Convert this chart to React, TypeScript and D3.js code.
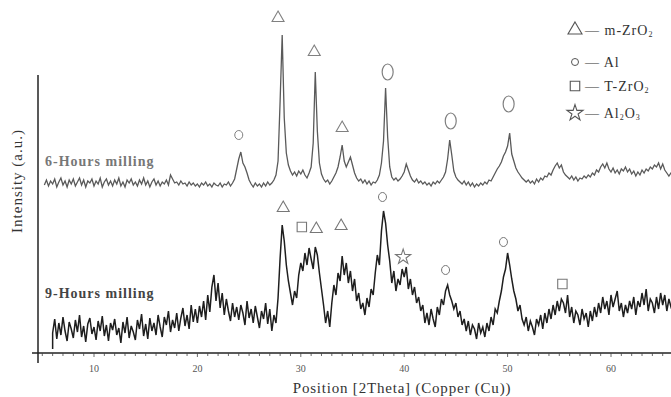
import { useRef, useEffect } from 'react';
import * as d3 from 'd3';

const W = 671;
const H = 397;

// 2θ step of the digitised scans (every 0.2°)
const STEP = 0.2;
const TOP_START = 5.2;
const BOTTOM_START = 6.0;

// 6-hours milling, intensity (a.u.), from 5.2° to 66°
const top6h = [
  168, 173, 167, 172,
  169, 174, 166, 171, 175, 168, 172, 166, 173, 169,
  174, 167, 171, 175, 168, 173, 166, 172, 170, 174,
  167, 172, 169, 175, 166, 171, 174, 168, 172, 167,
  173, 169, 175, 167, 171, 166, 173, 170, 174, 168,
  171, 167, 173, 169, 175, 168, 172, 166, 171, 174,
  168, 172, 167, 171, 169, 173, 168, 178, 174, 170,
  171, 168, 172, 169, 170, 167, 171, 168, 170, 167,
  169, 166, 170, 168, 171, 167, 169, 166, 170, 168,
  167, 170, 166, 169, 168, 171, 167, 170, 174, 184,
  194, 201, 190, 186, 180, 173, 169, 166, 170, 167,
  169, 166, 170, 167, 171, 168, 170, 173, 178, 192,
  252, 318, 235, 200, 188, 182, 178, 181, 177, 182,
  179, 183, 178, 175, 180, 186, 210, 281, 222, 190,
  179, 174, 171, 173, 169, 172, 176, 180, 186, 196,
  208, 192, 186, 191, 196, 188, 180, 175, 172, 174,
  170, 173, 169, 172, 168, 171, 170, 173, 178, 190,
  212, 265, 216, 186, 176, 173, 175, 172, 174, 177,
  181, 189, 183, 177, 173, 171, 174, 170, 172, 169,
  171, 168, 170, 167, 171, 169, 172, 170, 173, 176,
  181, 194, 213, 198, 182, 176, 173, 171, 169, 172,
  168, 171, 167, 170, 166, 169, 167, 170, 168, 171,
  169, 173, 172, 176, 180, 184, 187, 191, 197, 201,
  207, 220, 199, 192, 185, 181, 178, 175, 173, 171,
  173, 170, 172, 169, 174, 171, 175, 173, 177, 176,
  180, 178, 183, 187, 190, 185, 188, 181, 178, 176,
  174, 177, 173, 176, 172, 175, 174, 177, 175, 178,
  176, 180, 178, 183, 181, 186, 189, 185, 190, 184,
  181, 185, 180, 183, 179, 184, 182, 186, 181, 184,
  179, 182, 177, 181, 178, 183, 180, 184, 182, 186,
  184, 188, 186, 190, 184, 189, 183, 180, 177, 180,
  178,
];

// 9-hours milling, intensity (a.u.), from 6° to 66°
const bottom9h = [
  20, 34, 14, 30, 18, 36, 22, 12, 31, 24,
  15, 33, 21, 38, 16, 27, 11, 29, 35, 19,
  26, 13, 32, 22, 37, 17, 28, 12, 30, 23,
  34, 18, 25, 10, 31, 20, 36, 15, 27, 21,
  13, 33, 24, 39, 17, 29, 14, 35, 22, 30,
  18, 38, 26, 16, 36, 28, 42, 21, 33, 25,
  40, 22, 35, 45, 27, 38, 24, 48, 31, 44,
  30, 47, 36, 52, 33, 58, 41, 66, 78, 52,
  70, 45, 60, 38, 54, 42, 32, 50, 36, 46,
  33, 48, 40, 28, 52, 35, 44, 30, 47, 36,
  25, 42, 34, 50, 29, 44, 22, 38, 30, 55,
  95, 128, 112, 88, 72, 60, 48, 62, 55, 78,
  90, 82, 100, 88, 105, 94, 84, 106, 98, 80,
  64, 48, 30, 42, 26, 50, 68, 58, 80, 72,
  97, 78, 90, 70, 82, 62, 74, 52, 60, 44,
  50, 38, 55, 46, 64, 58, 80, 98, 88, 122,
  142, 130, 108, 92, 70, 82, 62, 74, 68, 84,
  76, 86, 64, 74, 58, 66, 50, 56, 42, 48,
  30, 40, 28, 44, 34, 26, 46, 38, 54, 48,
  62, 68, 58, 52, 44, 50, 36, 42, 28, 34,
  22, 32, 18, 28, 24, 14, 30, 20, 26, 16,
  30, 22, 36, 28, 44, 40, 52, 62, 76, 84,
  100, 88, 74, 62, 54, 42, 48, 34, 28, 36,
  22, 32, 26, 18, 34, 28, 38, 24, 40, 30,
  44, 34, 48, 38, 52, 42, 54, 50, 40, 58,
  36, 46, 30, 42, 38, 28, 44, 34, 40, 26,
  42, 32, 46, 36, 50, 40, 56, 44, 52, 38,
  58, 46, 54, 62, 42, 50, 36, 48, 40, 52,
  44, 56, 38, 52, 46, 60, 48, 64, 42, 54,
  50, 40, 56, 44, 60, 48, 58, 42, 54, 46,
  50,
];

// phase markers: [2θ, label height (a.u.), phase]
const topMarkers: [number, number, string][] = [
  [24.0, 218, 'Al-s'],
  [27.8, 335, 'm'],
  [31.3, 301, 'm'],
  [34.0, 225, 'm'],
  [38.4, 281, 'Al-l'],
  [44.5, 232, 'Al-l'],
  [50.1, 249, 'Al-l'],
];
const bottomMarkers: [number, number, string][] = [
  [28.3, 145, 'm'],
  [30.1, 126, 't'],
  [31.5, 124, 'm'],
  [33.9, 127, 'm'],
  [37.9, 156, 'Al'],
  [39.9, 96, 'a'],
  [44.0, 83, 'Al'],
  [49.6, 111, 'Al'],
  [55.3, 69, 't'],
];

const xTicks = [10, 20, 30, 40, 50, 60];
const legendItems = [
  { phase: 'm', name: 'm-ZrO', sub: '2' },
  { phase: 'Al', name: 'Al', sub: '' },
  { phase: 't', name: 'T-ZrO', sub: '2' },
  { phase: 'a', name: 'Al', sub: '2', tail: 'O', sub2: '3' },
];

const FONT = '"Liberation Serif", "Times New Roman", serif';

function markerPath(phase: string, big = false): string {
  if (phase === 'm') return d3.symbol(d3.symbolTriangle, big ? 85 : 62)()!;
  if (phase === 't') return d3.symbol(d3.symbolSquare, big ? 90 : 88)()!;
  if (phase === 'a') return d3.symbol(d3.symbolStar, big ? 80 : 70)()!;
  return '';
}

export default function App() {
  const ref = useRef<SVGSVGElement>(null);

  useEffect(() => {
    const svg = d3.select(ref.current);
    svg.selectAll('*').remove();

    const x = d3.scaleLinear().domain([10, 60]).range([94, 611]);
    const y = d3.scaleLinear().domain([0, 320]).range([353, 33]);

    const line = d3
      .line<[number, number]>()
      .x((d) => x(d[0]))
      .y((d) => y(d[1]));

    const topPts: [number, number][] = top6h.map((v, i) => [TOP_START + i * STEP, v]);
    const botPts: [number, number][] = [[BOTTOM_START, 4]].concat(
      bottom9h.map((v, i) => [BOTTOM_START + i * STEP, v])
    ) as [number, number][];

    // axes
    svg.append('line')
      .attr('x1', 32).attr('x2', W).attr('y1', y(0)).attr('y2', y(0))
      .attr('stroke', '#222').attr('stroke-width', 1.5);
    svg.append('line')
      .attr('x1', 38).attr('x2', 38).attr('y1', 75).attr('y2', 363)
      .attr('stroke', '#222').attr('stroke-width', 1.5);

    const minor = d3.range(5, 67, 1);
    svg.selectAll('.tick')
      .data(minor)
      .join('line')
      .attr('x1', (d) => x(d)).attr('x2', (d) => x(d))
      .attr('y1', y(0)).attr('y2', (d) => y(0) + (d % 10 === 0 ? 4 : 3))
      .attr('stroke', '#444').attr('stroke-width', 0.8);

    svg.selectAll('.tl')
      .data(xTicks)
      .join('text')
      .attr('x', (d) => x(d)).attr('y', 372)
      .attr('text-anchor', 'middle')
      .attr('font-family', FONT).attr('font-size', 10)
      .attr('fill', '#555')
      .text((d) => d);

    svg.append('text')
      .attr('x', 402).attr('y', 393)
      .attr('text-anchor', 'middle')
      .attr('font-family', FONT).attr('font-size', 15)
      .attr('letter-spacing', 0.8)
      .attr('fill', '#333')
      .text('Position [2Theta] (Copper (Cu))');

    svg.append('text')
      .attr('transform', 'translate(22,181) rotate(-90)')
      .attr('text-anchor', 'middle')
      .attr('font-family', FONT).attr('font-size', 15)
      .attr('letter-spacing', 1)
      .attr('fill', '#333')
      .text('Intensity (a.u.)');

    // traces
    svg.append('path')
      .attr('d', line(topPts))
      .attr('fill', 'none').attr('stroke', '#5a5a5a').attr('stroke-width', 1.3);
    svg.append('path')
      .attr('d', line(botPts))
      .attr('fill', 'none').attr('stroke', '#1e1e1e').attr('stroke-width', 1.5);

    // series labels
    svg.append('text')
      .attr('x', 45).attr('y', 166)
      .attr('font-family', FONT).attr('font-size', 14).attr('font-weight', 'bold')
      .attr('letter-spacing', 1)
      .attr('fill', '#777')
      .text('6-Hours milling');
    svg.append('text')
      .attr('x', 45).attr('y', 298)
      .attr('font-family', FONT).attr('font-size', 14).attr('font-weight', 'bold')
      .attr('letter-spacing', 1)
      .attr('fill', '#444')
      .text('9-Hours milling');

    // phase markers
    const drawMarker = (
      g: d3.Selection<SVGGElement, unknown, null, undefined>,
      phase: string,
      cx: number,
      cy: number,
      color: string,
      big = false
    ) => {
      if (phase === 'Al' || phase === 'Al-s') {
        g.append('ellipse')
          .attr('cx', cx).attr('cy', cy)
          .attr('rx', big ? 3.5 : 4).attr('ry', big ? 3.5 : 4.5)
          .attr('fill', 'none').attr('stroke', color).attr('stroke-width', 1);
      } else if (phase === 'Al-l') {
        g.append('ellipse')
          .attr('cx', cx).attr('cy', cy).attr('rx', 5.5).attr('ry', 8)
          .attr('fill', 'none').attr('stroke', color).attr('stroke-width', 1.2);
      } else {
        g.append('path')
          .attr('d', markerPath(phase, big))
          .attr('transform', `translate(${cx},${cy})`)
          .attr('fill', 'none').attr('stroke', color).attr('stroke-width', 1.1);
      }
    };

    const mg = svg.append('g');
    topMarkers.forEach(([p, lv, ph]) => drawMarker(mg, ph, x(p), y(lv), '#808080'));
    bottomMarkers.forEach(([p, lv, ph]) => drawMarker(mg, ph, x(p), y(lv), '#777'));

    // legend
    const legendRows = [30, 62, 86, 113];
    legendItems.forEach((it, i) => {
      const cy = legendRows[i];
      drawMarker(mg, it.phase, 575, cy, '#555', true);
      const t = svg.append('text')
        .attr('x', 585).attr('y', cy + 4.5)
        .attr('font-family', FONT).attr('font-size', 14)
        .attr('letter-spacing', 1)
        .attr('fill', '#333');
      t.append('tspan').text('— ' + it.name);
      if (it.sub) t.append('tspan').attr('font-size', 8).attr('dy', 2).text(it.sub);
      if (it.tail) t.append('tspan').attr('dy', -2).text(it.tail);
      if (it.sub2) t.append('tspan').attr('font-size', 8).attr('dy', 2).text(it.sub2);
    });
  }, []);

  return (
    <svg
      ref={ref}
      width={W}
      height={H}
      style={{ position: 'absolute', left: 0, top: 0, background: '#fff' }}
    />
  );
}
